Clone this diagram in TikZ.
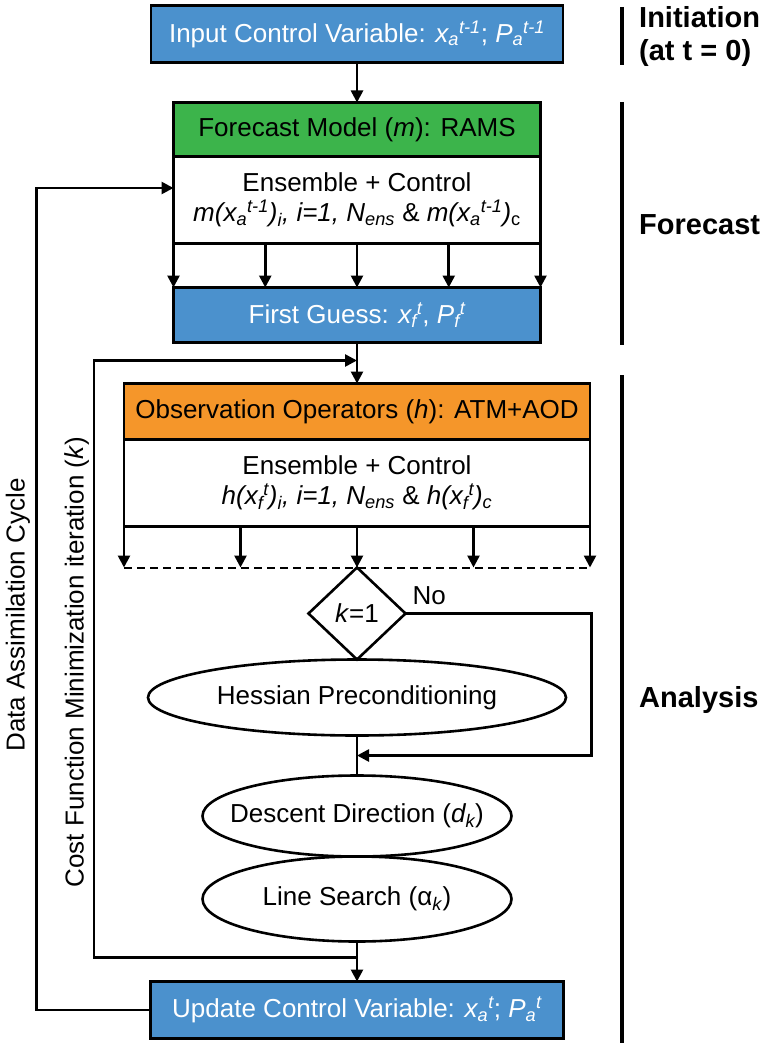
\documentclass[tikz,border=0pt]{standalone}
\usepackage{fontspec}
\setmainfont{Liberation Sans}
\usetikzlibrary{positioning,arrows.meta,shapes.geometric,calc}

\definecolor{boxblue}{RGB}{75,145,205}
\definecolor{boxgreen}{RGB}{60,180,75}
\definecolor{boxorange}{RGB}{245,150,42}

% state variable with sub- and superscript set one after the other
\newcommand{\stvar}[3]{\textit{#1\textsubscript{#2}\textsuperscript{#3}}}

\begin{document}
\begin{tikzpicture}[
  x=1pt, y=-1pt,
  font=\fontsize{26}{30}\selectfont,
  box/.style={draw, line width=2.6pt, rectangle, align=center, inner sep=0pt,
              outer sep=0pt, minimum height=55pt},
  varbox/.style={box, fill=boxblue, text=white, minimum width=412pt, minimum height=57pt},
  headbox/.style={box, minimum width=367pt, minimum height=54pt},
  ensbox/.style={box, fill=white, minimum height=87pt},
  oval/.style={draw, ellipse, line width=2.6pt, inner sep=0pt, outer sep=0pt},
  arr/.style={-{Triangle[length=12pt,width=12pt]}, line width=2.6pt},
  bar/.style={line width=4.5pt},
  phase/.style={font=\fontsize{29}{33}\selectfont\bfseries, align=left, anchor=west, inner sep=0pt}
]
\useasboundingbox (0,0) rectangle (766,1043);

% forecast step
\node[varbox] (init) at (357,34) {Input Control Variable: \stvar{x}{a}{t-1}; \stvar{P}{a}{t-1}};
\node[headbox, fill=boxgreen, below=40pt of init] (fmod) {Forecast Model (\textit{m}): RAMS};
\node[ensbox, minimum width=367pt, below=0pt of fmod] (fens) {Ensemble + Control\\
  \textit{m(x\textsubscript{a}\textsuperscript{t-1})\textsubscript{i}, i=1, N\textsubscript{ens}} \& \textit{m(x\textsubscript{a}\textsuperscript{t-1})}\textsubscript{c}};
\node[varbox, minimum width=367pt, minimum height=55pt, below=44pt of fens] (fg) {First Guess: \stvar{x}{f}{t}, \stvar{P}{f}{t}};

% analysis step
\node[headbox, fill=boxorange, minimum width=466pt, minimum height=56pt, below=41pt of fg] (obs) {Observation Operators (\textit{h}): ATM+AOD};
\node[ensbox, minimum width=466pt, below=0pt of obs] (oens) {Ensemble + Control\\
  \textit{h(x\textsubscript{f}\textsuperscript{t})\textsubscript{i}, i=1, N\textsubscript{ens}} \& \textit{h(x\textsubscript{f}\textsuperscript{t})\textsubscript{c}}};
\node[draw, diamond, line width=2.6pt, minimum width=97pt, minimum height=92pt, inner sep=0pt,
      outer sep=0pt, below=41pt of oens] (kchk) {\textit{k}=1};
\node[oval, minimum width=418pt, minimum height=76pt, below=0pt of kchk] (hess) {\makebox[0pt]{Hessian Preconditioning}};
\node[oval, minimum width=309pt, minimum height=81pt, below=40pt of hess] (ddir) {\makebox[0pt]{Descent Direction (\textit{d\textsubscript{k}})}};
\node[oval, minimum width=309pt, minimum height=85pt, below=0pt of ddir] (lsrch) {\makebox[0pt]{Line Search (α\textsubscript{\textit{k}})}};
\node[varbox, minimum width=413pt, below=40pt of lsrch] (upd) {Update Control Variable: \stvar{x}{a}{t}; \stvar{P}{a}{t}};

\coordinate (kjoin) at ($(lsrch.south)+(0,16)$);
\coordinate (kret) at ($(fg.south)+(0,18)$);
\coordinate (nojoin) at ($(hess.south)!0.5!(ddir.north)$);
\coordinate (dl) at (oens.west |- kchk.north);
\coordinate (dr) at (oens.east |- kchk.north);

\draw[arr] (init) -- (fmod);
\foreach \f in {0,0.25,0.5,0.75,1}
  \draw[arr] ($(fens.south west)!\f!(fens.south east)$) -- ($(fg.north west)!\f!(fg.north east)$);
\draw[arr] (fg) -- (obs);
\foreach \f in {0,0.25,0.5,0.75,1}
  \draw[arr] ($(oens.south west)!\f!(oens.south east)$) -- ($(dl)!\f!(dr)$);
\draw[line width=2pt, dash pattern=on 8pt off 5pt] (dl) -- (dr);

\draw[arr] (kchk.east) -- ++(186,0) |- (nojoin);
\node[anchor=south west, inner sep=0pt] (nolbl) at ([xshift=7pt,yshift=9pt]kchk.east) {No};
\draw[line width=2.6pt] (hess) -- (ddir);
\draw[line width=2.6pt] (lsrch) -- (kjoin);
\draw[arr] (kjoin) -- (upd);

% minimization loop and assimilation cycle
\draw[arr] (kjoin) -- ++(-263,0) |- (kret);
\draw[arr] (upd.west) -- ++(-114,0) |- ([yshift=12pt]fens.west);
\node[rotate=90] (dacyc) at (18,615) {Data Assimilation Cycle};
\node[rotate=90] (cfmin) at (77,662) {Cost Function Minimization iteration (\textit{k})};

% phases
\draw[bar] (622,7) -- (622,65);
\draw[bar] (622,102) -- (622,345);
\draw[bar] (622,375) -- (622,1043);
\node[phase] (pinit) at (639,37) {Initiation\\(at t = 0)};
\node[phase] (pfcst) at (639,225) {Forecast};
\node[phase] (panal) at (639,700) {Analysis};
\end{tikzpicture}
\end{document}
